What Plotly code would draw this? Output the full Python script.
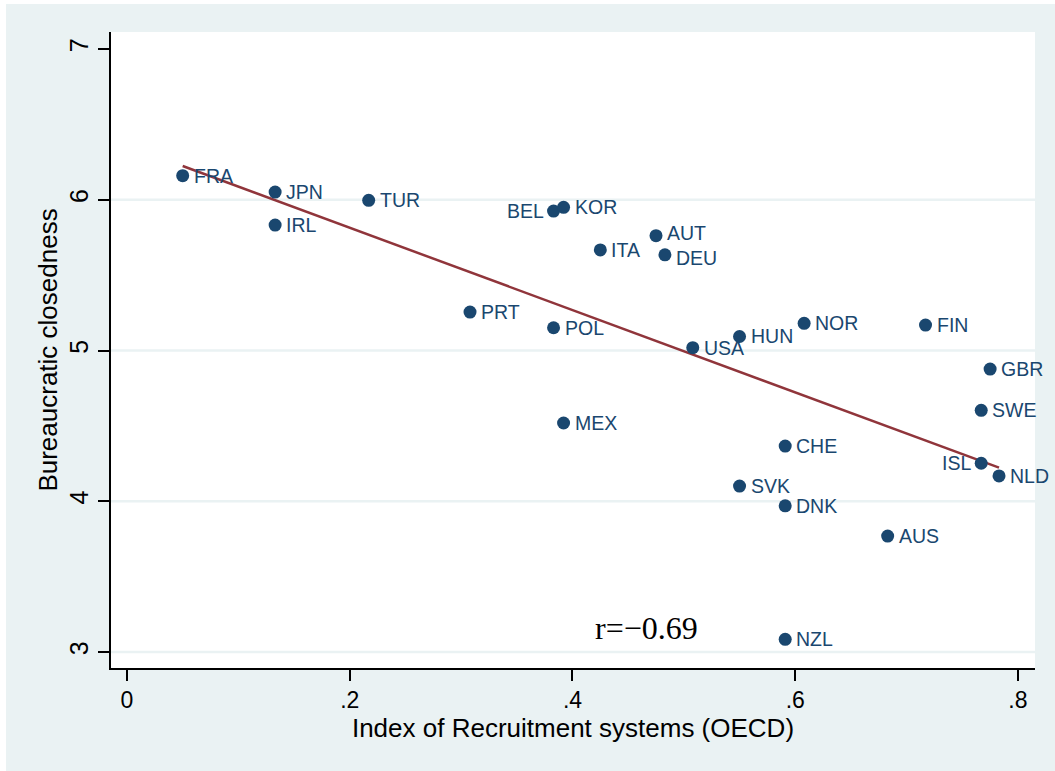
import numpy as np
import plotly.graph_objects as go

# ---- data ----
countries = ["FRA", "JPN", "IRL", "TUR", "BEL", "KOR", "ITA", "AUT", "DEU", "PRT",
             "POL", "USA", "HUN", "NOR", "FIN", "GBR", "SWE", "MEX", "CHE", "ISL",
             "NLD", "SVK", "DNK", "AUS", "NZL"]
recruitment = [0.050, 0.133, 0.133, 0.217, 0.383, 0.392, 0.425, 0.475, 0.483, 0.308,
               0.383, 0.508, 0.550, 0.608, 0.717, 0.775, 0.767, 0.392, 0.591, 0.767,
               0.783, 0.550, 0.591, 0.683, 0.591]
closedness = [6.160, 6.051, 5.832, 5.996, 5.925, 5.950, 5.667, 5.762, 5.635, 5.255,
              5.151, 5.019, 5.093, 5.180, 5.169, 4.877, 4.603, 4.519, 4.366, 4.252,
              4.168, 4.101, 3.970, 3.769, 3.084]
label_side = ["right"] * len(countries)
label_side[countries.index("BEL")] = "left"
label_side[countries.index("ISL")] = "left"
label_nudge = [0] * len(countries)
label_nudge[countries.index("AUT")] = 3
label_nudge[countries.index("DEU")] = -3

x_ticks = [0, 0.2, 0.4, 0.6, 0.8]
x_ticklabels = ["0", ".2", ".4", ".6", ".8"]
y_ticks = [3, 4, 5, 6, 7]
y_grid = [3, 4, 5, 6]
r_text = "r=\u22120.69"

NAVY = "#1A476F"
MAROON = "#90353B"
BG = "#EAF2F3"
SANS = "Liberation Sans, Arial, sans-serif"

# linear fit
xa = np.array(recruitment)
ya = np.array(closedness)
b, a = np.polyfit(xa, ya, 1)
fit_x = [xa.min(), xa.max()]
fit_y = [a + b * v for v in fit_x]

fig = go.Figure()

fig.add_trace(go.Scatter(
    x=fit_x, y=fit_y, mode="lines",
    line=dict(color=MAROON, width=2.5),
    hoverinfo="skip", showlegend=False,
))

fig.add_trace(go.Scatter(
    x=recruitment, y=closedness, mode="markers",
    text=countries,
    marker=dict(color=NAVY, size=13),
    showlegend=False,
))

for cx, cy, name, side, nudge in zip(recruitment, closedness, countries, label_side, label_nudge):
    fig.add_annotation(
        x=cx, y=cy, xref="x", yref="y", text=name, showarrow=False,
        xanchor="left" if side == "right" else "right", yanchor="middle",
        xshift=11 if side == "right" else -10, yshift=nudge,
        borderpad=0, borderwidth=0,
        font=dict(family=SANS, size=19.5, color=NAVY),
    )

for g in y_grid:
    fig.add_shape(type="line", xref="paper", yref="y", x0=0, x1=1, y0=g, y1=g,
                  line=dict(color=BG, width=2.5), layer="below")

fig.add_annotation(x=0.4669, y=3.159, xref="x", yref="y", text=r_text,
                   showarrow=False,
                   font=dict(family="Liberation Serif, Times New Roman, serif",
                             size=32, color="black"))

# white frame strips of the picture (left / top)
L, R, T, B = 111, 20, 32, 103
W, H = 1055, 771
pw, ph = W - L - R, H - T - B
fig.add_shape(type="rect", xref="paper", yref="paper",
              x0=-L / pw, x1=(6 - L) / pw, y0=-B / ph, y1=(H - B) / ph + 0.01,
              fillcolor="white", line=dict(width=0), layer="above")
fig.add_shape(type="rect", xref="paper", yref="paper",
              x0=-L / pw, x1=(W - L) / pw, y0=(H - B - 4) / ph, y1=(H - B) / ph + 0.01,
              fillcolor="white", line=dict(width=0), layer="above")

fig.update_layout(
    width=W, height=H,
    margin=dict(l=L, r=R, t=T, b=B, autoexpand=False),
    paper_bgcolor=BG, plot_bgcolor="white",
    font=dict(family=SANS, color="black"),
    xaxis=dict(
        range=[-0.01437, 0.8153], tickvals=x_ticks, ticktext=x_ticklabels,
        showgrid=False, zeroline=False, showline=True, linecolor="black", linewidth=1.5,
        ticks="outside", ticklen=11, tickwidth=1.5, tickcolor="black",
        tickfont=dict(family=SANS, size=23, color="black"),
        automargin=False,
        title=dict(text="Index of Recruitment systems (OECD)",
                   font=dict(family=SANS, size=26, color="black"), standoff=1),
    ),
    yaxis=dict(
        range=[2.8939, 7.1128], tickvals=y_ticks,
        showgrid=False, zeroline=False, showline=True, linecolor="black", linewidth=1.5,
        ticks="outside", ticklen=11, tickwidth=1.5, tickcolor="black",
        tickangle=-90,
        tickfont=dict(family=SANS, size=25, color="black"),
        automargin=False,
        title=dict(text="Bureaucratic closedness",
                   font=dict(family=SANS, size=26, color="black"), standoff=0),
    ),
)

fig.write_html("out.html", config={"displayModeBar": False},
               post_script="document.body.style.margin='0';")
